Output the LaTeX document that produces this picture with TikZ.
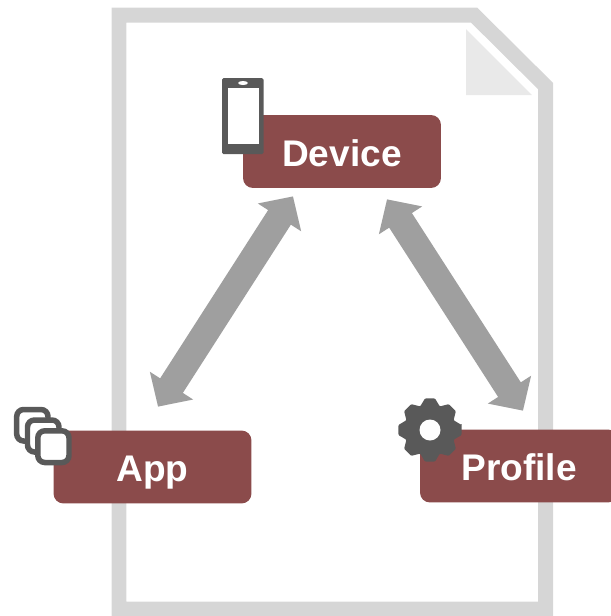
\documentclass[tikz,border=0pt]{standalone}
\usepackage{fontspec}
\setmainfont{Liberation Sans}
\usetikzlibrary{arrows.meta}

\definecolor{framegray}{HTML}{D6D6D6}
\definecolor{foldgray}{HTML}{E9E9E9}
\definecolor{linkgray}{HTML}{9F9F9F}
\definecolor{icongray}{HTML}{595959}
\definecolor{boxred}{HTML}{8B4B4B}

\tikzset{
	box/.style={rectangle,rounded corners=0.2cm,fill=boxred,text=white,minimum width=3.96cm,minimum height=1.46cm,text height=0.58cm,text depth=0pt,font=\fontsize{21.1}{24}\selectfont\bfseries},
	link/.style={linkgray,line width=0.54cm,{Triangle[length=0.5cm,width=1cm]}-{Triangle[length=0.5cm,width=1cm]}},
	stack/.style={icongray,fill=white,line width=0.11cm,rounded corners=0.14cm}
}

\begin{document}
\begin{tikzpicture}[x=0.02cm,y=-0.02cm]
		\useasboundingbox (0,0) rectangle (611,616);
		\clip (0,0) rectangle (611,616);

		% sheet
		\draw[framegray,line width=0.3cm] (119,15) -- (474,15) -- (545.5,86) -- (545.5,609) -- (119,609) -- cycle;
		\fill[foldgray] (466,29) -- (532,95) -- (466,95) -- cycle;

		\node (device) [box] at (342,151.5) {Device};
		\node (app) [box] at (152.5,467) {App};
		\node (profile) [box] at (519,466) {Profile};

		\path (device.south) +(-49,8) coordinate (device_l);
		\path (device.south) +(45,11) coordinate (device_r);
		\path (app.north) +(5.5,-23.5) coordinate (app_t);
		\path (profile.north) +(4,-18.5) coordinate (profile_t);
		\draw[link] (device_l) -- (app_t);
		\draw[link] (device_r) -- (profile_t);

		% phone
		\fill[icongray,rounded corners=0.03cm] (222,78) rectangle (263.5,154);
		\fill[white] (227.5,88) rectangle (259,143.5);
		\fill[white] (243,83) ellipse (5 and 2);

		% windows
		\draw[stack] (16.7,409.5) rectangle (48,441);
		\draw[stack] (27.5,420) rectangle (59,452);
		\draw[stack] (37.8,430.8) rectangle (69,462.5);

		% gear
		\begin{scope}[shift={(430,430)}]
			\fill[icongray,rounded corners=0.02cm] (-9:32)
				\foreach \a in {0,45,...,315} {
					-- (\a-9:32) -- (\a+9:32) -- (\a+22.5:25.5)
				} -- cycle;
			\fill[white] (0,0) circle (10.5);
		\end{scope}
	\end{tikzpicture}
\end{document}
